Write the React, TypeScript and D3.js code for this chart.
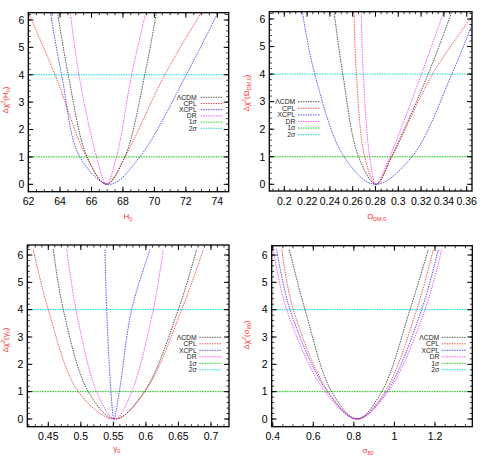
import { scaleLinear, line, curveCatmullRom, range } from "d3";
import React from "react";

// tick labels
const h0Ticks = ["62", "64", "66", "68", "70", "72", "74"];
const omTicks = ["0.2", "0.22", "0.24", "0.26", "0.28", "0.3", "0.32", "0.34", "0.36"];
const gammaTicks = ["0.45", "0.5", "0.55", "0.6", "0.65", "0.7"];
const sigmaTicks = ["0.4", "0.6", "0.8", "1", "1.2"];
const chiTicks = ["0", "1", "2", "3", "4", "5", "6"];

// legend
const models = ["ΛCDM", "CPL", "XCPL", "DR"];
const modelColors = ["#000000", "#ff0000", "#0000ff", "#ff00ff"];
const sigmaNames = ["1σ", "2σ"];
const sigmaLevels = [1, 4];
const sigmaColors = ["#00c800", "#00d8d8"];

// Δχ² curves: [parameter, Δχ²]
const h0Lcdm = [[63.84, 6.27], [64.52, 4], [65.72, 1], [66.95, 0], [68.12, 1], [69.39, 4], [70.13, 6.27]];
const h0Cpl = [[62.0, 6.25], [63.68, 4], [65.68, 1], [66.95, 0], [68.12, 1], [70.66, 4], [72.98, 6.27]];
const h0Xcpl = [[63.38, 6.27], [64.1, 4], [65.26, 1], [67.15, 0], [69.07, 1], [72.03, 4], [74.04, 6.27]];
const h0Dr = [[64.65, 6.27], [65.2, 4], [66.32, 1], [66.95, 0], [67.59, 1], [68.55, 4], [69.45, 6.27]];

const omLcdm = [[0.2436, 6.27], [0.2513, 4], [0.2651, 1], [0.2805, 0], [0.2939, 1], [0.3262, 4], [0.347, 6.27]];
const omCpl = [[0.2611, 6.27], [0.2632, 4], [0.2705, 1], [0.2805, 0], [0.2945, 1], [0.33, 4], [0.3647, 6.1]];
const omXcpl = [[0.2158, 6.27], [0.2267, 4], [0.2524, 1], [0.2795, 0], [0.312, 1], [0.347, 4], [0.3647, 5.8]];
const omDr = [[0.2675, 6.27], [0.2693, 4], [0.2749, 1], [0.2805, 0], [0.2925, 1], [0.3203, 4], [0.34, 6.27]];

const gammaLcdm = [[0.4577, 6.2], [0.473, 4], [0.5115, 1], [0.5525, 0], [0.5975, 1], [0.6498, 4], [0.678, 6.2]];
const gammaCpl = [[0.427, 6.2], [0.45, 4], [0.4961, 1], [0.5525, 0], [0.5986, 1], [0.655, 4], [0.6882, 6.2]];
const gammaXcpl = [[0.5371, 6.2], [0.5397, 4], [0.5463, 1], [0.551, 0], [0.5591, 1], [0.5781, 4], [0.6063, 6.2]];
const gammaDr = [[0.4783, 6.2], [0.4926, 4], [0.5244, 1], [0.5525, 0], [0.5781, 1], [0.6113, 4], [0.6267, 6.2]];

const sigmaLcdm = [[0.4818, 6.2], [0.5592, 4], [0.6908, 1], [0.816, 0], [0.9372, 1], [1.0767, 4], [1.167, 6.2]];
const sigmaCpl = [[0.4444, 6.2], [0.5015, 4], [0.674, 1], [0.816, 0], [0.9535, 1], [1.1097, 4], [1.192, 6.2]];
const sigmaXcpl = [[0.4197, 6.2], [0.4853, 4], [0.6691, 1], [0.817, 0], [0.9618, 1], [1.134, 4], [1.216, 6.2]];
const sigmaDr = [[0.403, 6.2], [0.469, 4], [0.6578, 1], [0.817, 0], [0.969, 1], [1.1506, 4], [1.233, 6.2]];

const FONT = "'Liberation Sans Narrow', 'Liberation Sans', Arial, sans-serif";
const TITLE_RED = "#ff3030";

const panels = [
  {
    id: "h0",
    curves: [h0Lcdm, h0Cpl, h0Xcpl, h0Dr],
    ticks: h0Ticks,
    xDomain: [62, 74], xRange: [28.6, 217.3], yRange: [184.3, 20],
    frame: { x0: 28.3, x1: 228.7, y0: 12.7, y1: 191.7 },
    minor: 0.5,
    legend: { tx: 196.7, ty: 97.3, gap: 6.2, lx0: 200.7, lx1: 223.3 },
    xTitle: { x: 128, y: 219, main: "H", sub: "0" },
    yTitle: { x: 8, y: 100, main: "H", sub: "0" },
  },
  {
    id: "om",
    curves: [omLcdm, omCpl, omXcpl, omDr],
    ticks: omTicks,
    xDomain: [0.2, 0.36], xRange: [284.3, 466.7], yRange: [184.3, 19],
    frame: { x0: 269.3, x1: 472, y0: 11.7, y1: 191 },
    minor: 0.005,
    legend: { tx: 295.3, ty: 101.7, gap: 6.6, lx0: 298, lx1: 319.7 },
    xTitle: { x: 376.7, y: 219, main: "Ω", sub: "DM,0" },
    yTitle: { x: 249, y: 93, main: "Ω", sub: "DM,0" },
  },
  {
    id: "gamma",
    curves: [gammaLcdm, gammaCpl, gammaXcpl, gammaDr],
    ticks: gammaTicks,
    xDomain: [0.45, 0.7], xRange: [48.3, 211], yRange: [419, 255],
    frame: { x0: 27.3, x1: 229, y0: 245, y1: 426.7 },
    minor: 0.01,
    legend: { tx: 196.7, ty: 337.3, gap: 6.5, lx0: 199.3, lx1: 221.7 },
    xTitle: { x: 116.7, y: 451, main: "γ", sub: "0" },
    yTitle: { x: 8, y: 340, main: "γ", sub: "0" },
  },
  {
    id: "sigma",
    curves: [sigmaLcdm, sigmaCpl, sigmaXcpl, sigmaDr],
    ticks: sigmaTicks,
    xDomain: [0.4, 1.2], xRange: [272.7, 435], yRange: [419, 255],
    frame: { x0: 271.7, x1: 472.3, y0: 245.7, y1: 426.7 },
    minor: 0.05,
    legend: { tx: 439.3, ty: 337.3, gap: 6.5, lx0: 441.7, lx1: 466.7 },
    xTitle: { x: 368, y: 453, main: "σ", sub: "80" },
    yTitle: { x: 249, y: 335, main: "σ", sub: "80" },
  },
];

const Panel = ({ p }) => {
  const { frame, legend } = p;
  const x = scaleLinear().domain(p.xDomain).range(p.xRange);
  const y = scaleLinear().domain([0, 6]).range(p.yRange);
  const path = line()
    .x((d) => x(d[0]))
    .y((d) => y(d[1]))
    .curve(curveCatmullRom.alpha(0.5));

  const xLo = x.invert(frame.x0);
  const xHi = x.invert(frame.x1);
  const xMinor = range(Math.ceil(xLo / p.minor - 1e-6) * p.minor, xHi, p.minor);
  const yMinor = range(0, 6.21, 0.2);
  const xMajor = p.ticks.map(Number);
  const yMajor = chiTicks.map(Number);

  return (
    <g>
      <defs>
        <clipPath id={"clip-" + p.id}>
          <rect x={frame.x0} y={frame.y0} width={frame.x1 - frame.x0} height={frame.y1 - frame.y0} />
        </clipPath>
      </defs>

      <g clipPath={`url(#clip-${p.id})`}>
        {sigmaLevels.map((lv, i) => (
          <line key={lv} x1={frame.x0} x2={frame.x1} y1={y(lv)} y2={y(lv)}
            stroke={sigmaColors[i]} strokeWidth={1} strokeDasharray="1.5 1" />
        ))}
        {p.curves.map((c, i) => (
          <path key={i} d={path(c)} fill="none" stroke={modelColors[i]}
            strokeWidth={0.9} strokeDasharray="1.5 1" strokeOpacity={0.75} />
        ))}
      </g>

      {/* ticks, mirrored on all sides */}
      {xMinor.map((v) => (
        <g key={"xm" + v} stroke="#000" strokeWidth={0.8}>
          <line x1={x(v)} x2={x(v)} y1={frame.y1} y2={frame.y1 - 2.5} />
          <line x1={x(v)} x2={x(v)} y1={frame.y0} y2={frame.y0 + 2.5} />
        </g>
      ))}
      {xMajor.map((v, i) => (
        <g key={"xM" + v}>
          <line x1={x(v)} x2={x(v)} y1={frame.y1} y2={frame.y1 - 5} stroke="#000" />
          <line x1={x(v)} x2={x(v)} y1={frame.y0} y2={frame.y0 + 5} stroke="#000" />
          <text x={x(v)} y={frame.y1 + 13.5} textAnchor="middle" fontSize={10.5}>{p.ticks[i]}</text>
        </g>
      ))}
      {yMinor.map((v) => (
        <g key={"ym" + v} stroke="#000" strokeWidth={0.8}>
          <line x1={frame.x0} x2={frame.x0 + 2.5} y1={y(v)} y2={y(v)} />
          <line x1={frame.x1} x2={frame.x1 - 2.5} y1={y(v)} y2={y(v)} />
        </g>
      ))}
      {yMajor.map((v, i) => (
        <g key={"yM" + v}>
          <line x1={frame.x0} x2={frame.x0 + 5} y1={y(v)} y2={y(v)} stroke="#000" />
          <line x1={frame.x1} x2={frame.x1 - 5} y1={y(v)} y2={y(v)} stroke="#000" />
          <text x={frame.x0 - 4} y={y(v) + 3.8} textAnchor="end" fontSize={10.5}>{chiTicks[i]}</text>
        </g>
      ))}

      <rect x={frame.x0} y={frame.y0} width={frame.x1 - frame.x0} height={frame.y1 - frame.y0}
        fill="none" stroke="#000" strokeWidth={1.3} />

      {/* legend */}
      {models.concat(sigmaNames).map((name, i) => {
        const ly = legend.ty + i * legend.gap;
        const col = i < 4 ? modelColors[i] : sigmaColors[i - 4];
        return (
          <g key={name}>
            <text x={legend.tx} y={ly + 2.3} textAnchor="end" fontSize={6.8} fill="#222">{name}</text>
            <line x1={legend.lx0} x2={legend.lx1} y1={ly} y2={ly} stroke={col}
              strokeWidth={0.9} strokeDasharray="1.5 1" strokeOpacity={i < 4 ? 0.75 : 1} />
          </g>
        );
      })}

      {/* axis titles */}
      <text x={p.xTitle.x} y={p.xTitle.y} textAnchor="middle" fontSize={8} fill={TITLE_RED}>
        {p.xTitle.main}
        <tspan fontSize={5.5} dy={2}>{p.xTitle.sub}</tspan>
      </text>
      <text transform={`translate(${p.yTitle.x},${p.yTitle.y}) rotate(-90)`} textAnchor="middle"
        fontSize={8} fill={TITLE_RED}>
        Δχ
        <tspan fontSize={5.5} dy={-3}>2</tspan>
        <tspan dy={3}>({p.yTitle.main}</tspan>
        <tspan fontSize={5.5} dy={2}>{p.yTitle.sub}</tspan>
        <tspan dy={-2}>)</tspan>
      </text>
    </g>
  );
};

const App = () => {
  return (
    <svg width={485} height={469} style={{ position: "absolute", left: 0, top: 0, background: "#fff" }}
      fontFamily={FONT}>
      {panels.map((p) => (
        <Panel key={p.id} p={p} />
      ))}
    </svg>
  );
};

export default App;
